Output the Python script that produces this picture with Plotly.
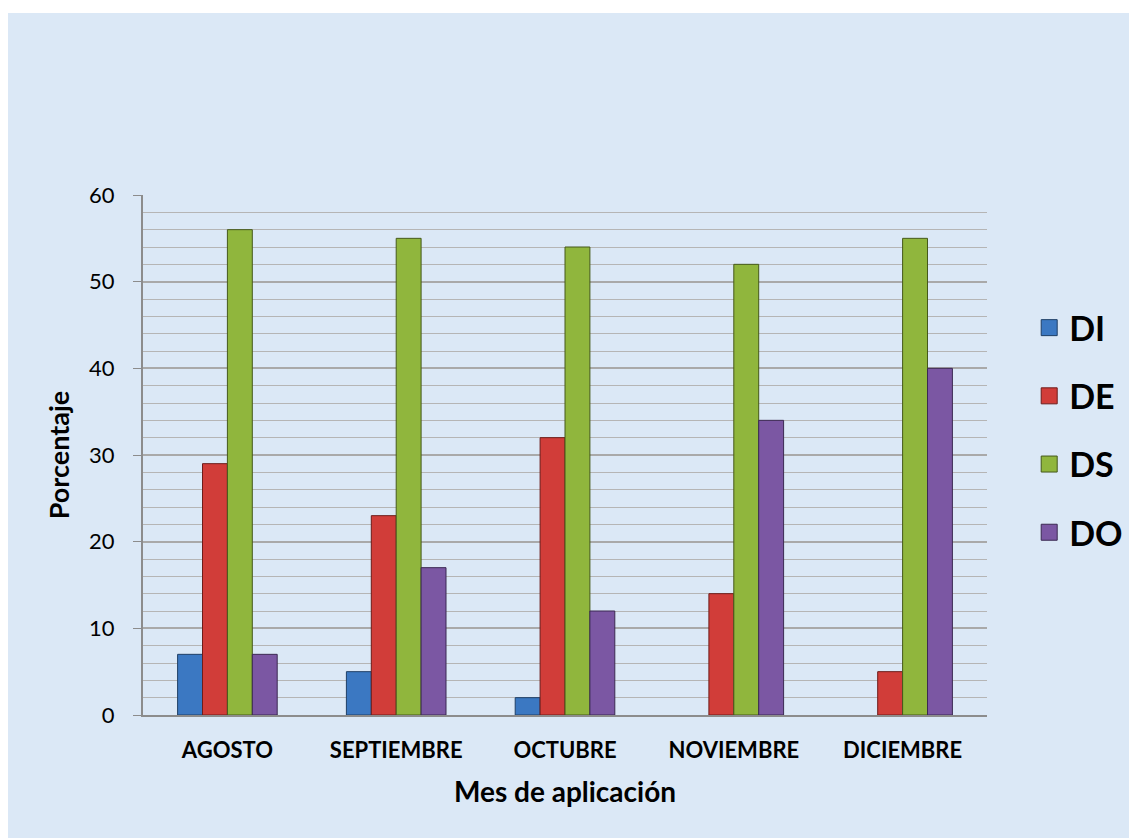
import plotly.graph_objects as go

months = ["AGOSTO", "SEPTIEMBRE", "OCTUBRE", "NOVIEMBRE", "DICIEMBRE"]
di = [7, 5, 2, 0, 0]
de = [29, 23, 32, 14, 5]
ds = [56, 55, 54, 52, 55]
do = [7, 17, 12, 34, 40]

series = [
    ("DI", di, "#3b78c2", "#1f3f66"),
    ("DE", de, "#d13d39", "#6e1c1a"),
    ("DS", ds, "#90b63d", "#45591b"),
    ("DO", do, "#7b57a3", "#3b2952"),
]

fig = go.Figure()
for name, vals, color, edge in series:
    fig.add_trace(
        go.Bar(
            x=months,
            y=vals,
            name=name,
            showlegend=False,
            marker=dict(
                color=color,
                # no outline on empty bars, otherwise a dark sliver shows on the axis
                line=dict(color=edge, width=[1 if v else 0 for v in vals]),
            ),
        )
    )
    # legend-only entry so the key square can be bigger than the bar default
    fig.add_trace(
        go.Scatter(
            x=[None], y=[None], mode="markers", name=name, legendgroup=name,
            marker=dict(symbol="square", size=16, color=color,
                        line=dict(color=edge, width=1)),
        )
    )

# background panel (white strip at top/left like the original)
fig.add_shape(
    type="rect", xref="paper", yref="paper",
    x0=-0.16, x1=1.3, y0=-0.3, y1=1.35,
    fillcolor="#dbe8f6", line=dict(width=0), layer="below",
)

fig.update_layout(
    width=1137,
    height=838,
    margin=dict(l=135, r=158, t=187, b=131),
    paper_bgcolor="white",
    plot_bgcolor="rgba(0,0,0,0)",
    font=dict(family="Lato, Open Sans, sans-serif", color="black"),
    barmode="group",
    bargap=0.41,
    bargroupgap=0,
    legend=dict(
        x=1.05, y=0.548, xanchor="left", yanchor="middle",
        font=dict(size=34, family="Lato", weight="bold"),
        tracegroupgap=21,
        itemwidth=30,
        itemsizing="trace",
        bgcolor="rgba(0,0,0,0)",
    ),
    xaxis=dict(
        title=dict(text="Mes de aplicación", font=dict(size=28, weight="bold"), standoff=20),
        tickfont=dict(size=22, weight="bold"),
        ticklabelstandoff=15,
        showline=True, linecolor="#8c8c8c", linewidth=2,
        ticks="", showgrid=False,
    ),
    yaxis=dict(
        title=dict(text="Porcentaje", font=dict(size=27, weight="bold"), standoff=12),
        range=[0, 60],
        dtick=10,
        tickfont=dict(size=22),
        ticklabelstandoff=14,
        showline=True, linecolor="#8c8c8c", linewidth=2,
        ticks="outside", ticklen=8, tickcolor="#8c8c8c",
        gridcolor="#a9a9a9", gridwidth=1.5,
        minor=dict(dtick=2, showgrid=True, gridcolor="#b5b5b5", gridwidth=1),
        zeroline=False,
    ),
)

fig.write_html("out.html")
